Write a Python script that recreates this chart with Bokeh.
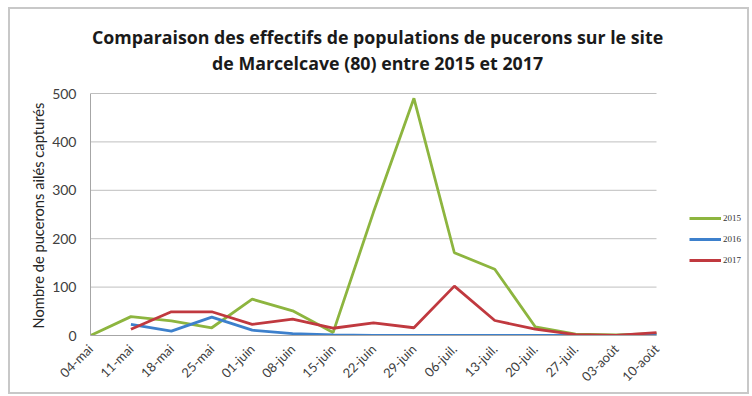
from math import pi, nan

from bokeh.embed import file_html
from bokeh.models import (FixedTicker, InlineStyleSheet, Label, Legend,
                          LegendItem, Range1d, Title)
from bokeh.plotting import figure
from bokeh.resources import INLINE

# Weekly sampling dates
dates = ["04-mai", "11-mai", "18-mai", "25-mai", "01-juin", "08-juin",
         "15-juin", "22-juin", "29-juin", "06-juil.", "13-juil.",
         "20-juil.", "27-juil.", "03-août", "10-août"]

# Winged aphids caught per week
y2015 = [0, 39, 30, 16, 75, 51, 6, 255, 490, 171, 137, 18, 3, 1, 4]
y2016 = [nan, 23, 9, 38, 11, 4, 1, 0, 0, 0, 0, 0, 0, 0, 1]
y2017 = [nan, 13, 49, 49, 23, 34, 15, 26, 16, 102, 31, 13, 2, 0, 6]

y_ticks = [0, 100, 200, 300, 400, 500]

title_lines = ["Comparaison des effectifs de populations de pucerons sur le site",
               "de Marcelcave (80) entre 2015 et 2017"]
y_label = "Nombre de pucerons ailés capturés"

FONT = "Lato"
TITLE_FONT = "Open Sans"
W, H = 752, 396
LEFT, BOTTOM = 90, 61          # room for the axes
X_SPAN_PX = 566                # width used by the 15 dates
Y_SPAN_PX = 242                # height used by 0..500

n = len(dates)
x_end = (n - 1) * (W - LEFT) / X_SPAN_PX
y_end = 500 * (H - BOTTOM) / Y_SPAN_PX

# The frame fills everything above/right of the axes, so the title and
# legend can live inside it; the axis and grid stop at the data extent.
p = figure(width=W, height=H, output_backend="svg", toolbar_location=None,
           x_range=Range1d(0, x_end), y_range=Range1d(0, y_end),
           min_border_left=LEFT, min_border_right=0,
           min_border_top=0, min_border_bottom=BOTTOM)
p.background_fill_color = "white"
p.border_fill_color = "white"
p.outline_line_color = None

# Horizontal gridlines across the date span only
p.xgrid.grid_line_color = None
p.ygrid.grid_line_color = None
grid_y = [t for t in y_ticks if t > 0]
p.segment(x0=[0] * len(grid_y), x1=[n - 1] * len(grid_y), y0=grid_y, y1=grid_y,
          line_color="#BFBFBF", line_width=1, level="underlay")

xs = list(range(n))
r15 = p.line(xs, y2015, line_color="#8DB53F", line_width=2.8)
r16 = p.line(xs, y2016, line_color="#3D80CC", line_width=2.8)
r17 = p.line(xs, y2017, line_color="#C0393F", line_width=2.8)

# Axes
p.xaxis.ticker = FixedTicker(ticks=xs)
p.xaxis.bounds = (0, n - 1)
p.xaxis.major_label_overrides = {i: d for i, d in enumerate(dates)}
p.xaxis.major_label_orientation = pi / 4
p.yaxis.ticker = FixedTicker(ticks=y_ticks)
p.yaxis.bounds = (0, 500)
for ax in (p.xaxis, p.yaxis):
    ax.axis_line_color = "#A6A6A6"
    ax.major_tick_line_color = None
    ax.minor_tick_line_color = None
    ax.major_label_text_font = FONT
    ax.major_label_text_color = "#404040"
p.xaxis.major_label_text_font_size = "13px"
p.xaxis.major_label_standoff = 5
p.yaxis.major_label_text_font_size = "14px"
p.yaxis.major_label_standoff = 8

# Y axis title, laid along the 0..500 span (starts at the baseline)
p.add_layout(Title(text=y_label, align="left", offset=7, standoff=5,
                   text_font=FONT, text_font_style="normal",
                   text_font_size="14.7px", text_color="#262626"), "left")

# Two-line title, centred over the chart
for text, yy in zip(title_lines, (617, 563)):
    p.add_layout(Label(x=7.1, y=yy, text=text, text_align="center",
                       text_baseline="alphabetic", text_font=TITLE_FONT,
                       text_font_style="bold", text_font_size="17.8px",
                       text_color="#1a1a1a"))

# Legend to the right of the dates
legend = Legend(items=[LegendItem(label="2015", renderers=[r15]),
                       LegendItem(label="2016", renderers=[r16]),
                       LegendItem(label="2017", renderers=[r17])],
                location=(599, 70), orientation="vertical",
                glyph_width=32, glyph_height=10, label_height=10,
                label_width=10, spacing=11, padding=0, margin=0,
                label_standoff=2, border_line_color=None,
                background_fill_alpha=0,
                label_text_font="Liberation Serif",
                label_text_font_size="9px", label_text_color="#333333")
p.add_layout(legend, "center")

# Thin grey frame around the whole chart
p.stylesheets.append(InlineStyleSheet(css="""
:host { position: relative; }
:host::after {
  content: ""; position: absolute; pointer-events: none;
  left: 8px; top: 7px; right: 3px; bottom: 2px;
  border: 2px solid #C8C8C8;
}
"""))

open("out.html", "w").write(file_html(p, INLINE))
